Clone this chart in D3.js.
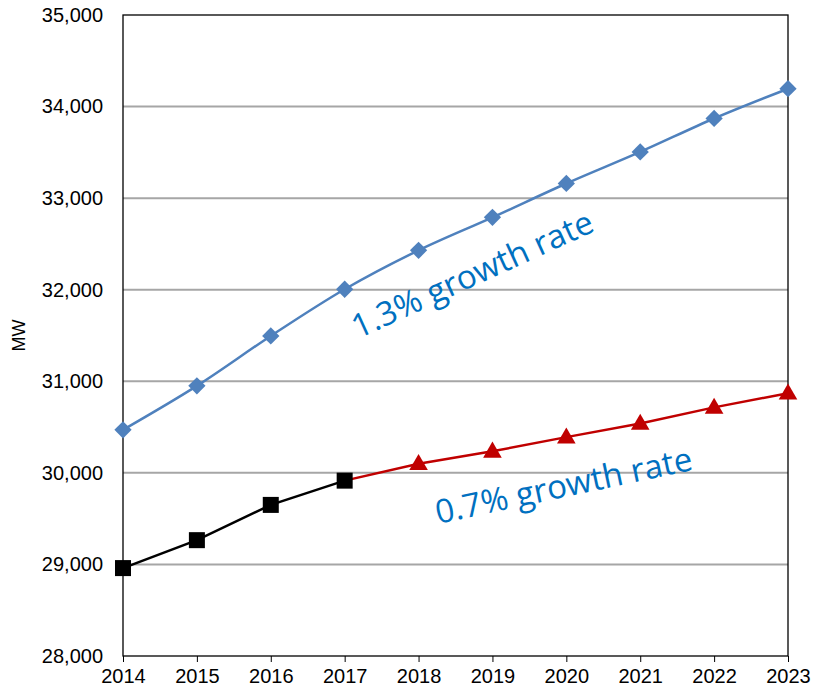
<!DOCTYPE html>
<html><head><meta charset="utf-8">
<script src="https://cdn.jsdelivr.net/npm/d3@7"></script>
<style>body{margin:0;background:#fff}</style>
</head><body><svg id="c" width="814" height="692"></svg>
<script>
const years = [2014,2015,2016,2017,2018,2019,2020,2021,2022,2023];
const growth13 = [30470,30950,31495,32005,32430,32790,33160,33505,33870,34195];
const histYears = [2014,2015,2016,2017];
const history = [28960,29265,29650,29915];
const growthYears07 = [2017,2018,2019,2020,2021,2022,2023];
const growth07 = [29915,30100,30235,30390,30540,30715,30870];
const yTicks = [28000,29000,30000,31000,32000,33000,34000,35000];

const svg = d3.select("#c");
const L=123, R=788, T=15, B=656;
const x = d3.scaleLinear().domain([2014,2023]).range([L,R]);
const y = d3.scaleLinear().domain([28000,35000]).range([B,T]);
const font = "'Liberation Sans', Arial, sans-serif";

// gridlines
svg.append("g").selectAll("line").data(yTicks.slice(1,-1)).join("line")
  .attr("x1",L).attr("x2",R).attr("y1",d=>y(d)).attr("y2",d=>y(d))
  .attr("stroke","#a6a6a6").attr("stroke-width",2);

// frame
svg.append("rect").attr("x",L).attr("y",T).attr("width",R-L).attr("height",B-T)
  .attr("fill","none").attr("stroke","#000").attr("stroke-width",1.3);

// axes
const yAxis = svg.append("g").attr("transform",`translate(${L},0)`)
  .call(d3.axisLeft(y).tickValues(yTicks).tickFormat(d3.format(",")).tickSize(0).tickPadding(20));
yAxis.select(".domain").remove();
yAxis.selectAll("text").attr("font-family",font).attr("font-size",20).attr("fill","#000");

const xAxis = svg.append("g").attr("transform",`translate(0,${B})`)
  .call(d3.axisBottom(x).tickValues(years).tickFormat(d3.format("d")).tickSize(6).tickPadding(7));
xAxis.select(".domain").remove();
xAxis.selectAll("line").attr("stroke","#000");
xAxis.selectAll("text").attr("font-family",font).attr("font-size",20).attr("fill","#000");

svg.append("text").attr("transform",`translate(25,${(T+B)/2}) rotate(-90)`)
  .attr("text-anchor","middle").attr("font-family",font).attr("font-size",18).text("MW");

// blue series
svg.append("path").datum(years.map((d,i)=>[d,growth13[i]]))
  .attr("d",d3.line().x(d=>x(d[0])).y(d=>y(d[1])).curve(d3.curveCatmullRom))
  .attr("fill","none").attr("stroke","#4F81BD").attr("stroke-width",2.5);
svg.append("g").selectAll("path").data(years.map((d,i)=>[d,growth13[i]])).join("path")
  .attr("transform",d=>`translate(${x(d[0])},${y(d[1])})`)
  .attr("d",d3.symbol(d3.symbolDiamond2,190)).attr("fill","#4F81BD");

// red series
const red = growthYears07.map((d,i)=>[d,growth07[i]]);
svg.append("path").datum(red)
  .attr("d",d3.line().x(d=>x(d[0])).y(d=>y(d[1])))
  .attr("fill","none").attr("stroke","#C00000").attr("stroke-width",2.5);
svg.append("g").selectAll("path").data(red.slice(1)).join("path")
  .attr("transform",d=>`translate(${x(d[0])},${y(d[1])+1})`)
  .attr("d",d3.symbol(d3.symbolTriangle,150)).attr("fill","#C00000");

// black series
const blk = histYears.map((d,i)=>[d,history[i]]);
svg.append("path").datum(blk)
  .attr("d",d3.line().x(d=>x(d[0])).y(d=>y(d[1])))
  .attr("fill","none").attr("stroke","#000").attr("stroke-width",2.5);
svg.append("g").selectAll("rect").data(blk).join("rect")
  .attr("x",d=>x(d[0])-8).attr("y",d=>y(d[1])-8).attr("width",16).attr("height",16).attr("fill","#000");

// annotations
const afont = "'Open Sans', 'Noto Sans', sans-serif";
svg.append("text").attr("transform","translate(358,339) rotate(-24.5)")
  .attr("font-family",afont).attr("font-size",33).attr("fill","#0070C0").text("1.3% growth rate");
svg.append("text").attr("transform","translate(438,524) rotate(-12)")
  .attr("font-family",afont).attr("font-size",33).attr("fill","#0070C0").text("0.7% growth rate");
</script></body></html>
